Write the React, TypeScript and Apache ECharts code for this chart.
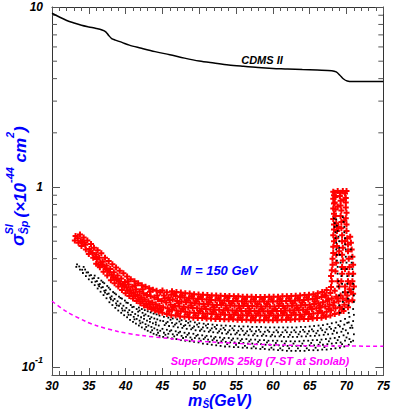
import React, { useEffect, useRef } from 'react';
import * as echarts from 'echarts';

// ---- Data ----
const X_MIN = 30;
const X_MAX = 75;
const Y_MIN = 0.0903;
const Y_MAX = 10;
const Y_MINOR_TICKS = [0.2, 0.3, 0.4, 0.5, 0.6, 0.7, 0.8, 0.9, 2, 3, 4, 5, 6, 7, 8, 9];

const CDMS_II: [number, number][] = [
  [30, 9.23], [31, 8.8], [32, 8.42], [33, 8.15], [34, 7.92], [35, 7.75], [36, 7.6], [36.8, 7.45],
  [37.3, 7.28], [37.7, 6.95], [38.1, 6.68], [38.6, 6.55], [39.5, 6.36], [40.5, 6.14], [42, 5.92],
  [44, 5.65], [46, 5.43], [48, 5.2], [50, 5.01], [52, 4.88], [54, 4.76], [56, 4.68], [58, 4.61],
  [60, 4.56], [62, 4.53], [64, 4.49], [66, 4.46], [68, 4.43], [68.6, 4.36], [69.1, 4.18],
  [69.6, 3.98], [70.1, 3.88], [70.8, 3.85], [72, 3.85], [75, 3.85],
];

const SUPER_CDMS: [number, number][] = [
  [30, 0.232], [32, 0.203], [34.6, 0.179], [36, 0.17], [39.1, 0.157], [42, 0.15], [45.9, 0.144],
  [49, 0.14], [52.7, 0.137], [57, 0.134], [61.7, 0.1324], [65, 0.131], [68.4, 0.1308], [75, 0.1305],
];

const RED_POINTS: [number, number][] = [
  [33.1,0.505],[33.2,0.535],[33.6,0.49],[33.5,0.52],[33.8,0.545],
  [34.0,0.47],[34.1,0.498],[34.3,0.525],
  [34.6,0.45],[34.5,0.478],[34.8,0.505],
  [35.0,0.425],[35.1,0.452],[35.3,0.482],
  [35.6,0.405],[35.5,0.43],[35.7,0.46],
  [36.0,0.375],[36.1,0.398],[36.0,0.422],[36.2,0.445],
  [36.5,0.358],[36.6,0.382],[36.4,0.405],[36.7,0.428],
  [37.0,0.338],[37.1,0.362],[36.9,0.385],[37.2,0.405],
  [37.5,0.322],[37.6,0.345],[37.4,0.367],[37.7,0.388],
  [38.0,0.303],[38.1,0.326],[37.9,0.35],[38.2,0.372],
  [38.5,0.292],[38.6,0.313],[38.4,0.336],[38.7,0.357],
  [39.0,0.28],[39.1,0.3],[38.9,0.322],[39.2,0.343],
  [39.5,0.268],[39.6,0.288],[39.4,0.31],[39.7,0.332],
  [40.0,0.257],[40.1,0.277],[39.9,0.297],[40.2,0.318],
  [40.5,0.248],[40.6,0.267],[40.4,0.287],[40.7,0.307],
  [41.0,0.24],[41.1,0.259],[40.9,0.279],[41.2,0.3],
  [41.5,0.233],[41.6,0.251],[41.4,0.27],[41.7,0.292],
  [42.0,0.226],[42.1,0.244],[41.9,0.263],[42.2,0.285],
  [42.5,0.22],[42.6,0.238],[42.4,0.257],[42.7,0.279],
  [43.0,0.215],[43.1,0.232],[42.9,0.251],[43.2,0.274],
  [43.5,0.21],[43.6,0.228],[43.4,0.247],[43.7,0.269],
  [44.0,0.206],[44.1,0.223],[43.9,0.243],[44.2,0.265],
  [44.5,0.203],[44.6,0.219],[44.4,0.238],[44.7,0.26],
  [45.0,0.2],[45.1,0.215],[44.9,0.233],[45.2,0.25],[45.0,0.266],
  [45.6,0.197],[45.7,0.212],[45.5,0.228],[45.8,0.243],[45.6,0.26],
  [46.2,0.194],[46.3,0.208],[46.1,0.222],[46.4,0.237],[46.2,0.252],[46.3,0.264],
  [46.8,0.193],[46.9,0.206],[46.7,0.219],[47.0,0.233],[46.8,0.248],[46.9,0.261],
  [47.4,0.191],[47.5,0.204],[47.3,0.217],[47.6,0.231],[47.4,0.245],[47.5,0.259],
  [48.0,0.19],[48.1,0.203],[47.9,0.216],[48.2,0.229],[48.0,0.243],[48.1,0.257],
  [48.6,0.189],[48.7,0.201],[48.5,0.214],[48.8,0.228],[48.6,0.241],[48.7,0.256],
  [49.2,0.188],[49.3,0.2],[49.1,0.213],[49.4,0.226],[49.2,0.24],[49.3,0.254],
  [49.8,0.187],[49.9,0.199],[49.7,0.212],[50.0,0.225],[49.8,0.239],[49.9,0.253],
  [50.4,0.187],[50.5,0.198],[50.3,0.211],[50.6,0.224],[50.4,0.238],[50.5,0.252],
  [51.0,0.186],[51.1,0.198],[50.9,0.21],[51.2,0.223],[51.0,0.237],[51.1,0.251],
  [51.6,0.186],[51.7,0.197],[51.5,0.209],[51.8,0.222],[51.6,0.236],[51.7,0.25],
  [52.2,0.185],[52.3,0.196],[52.1,0.208],[52.4,0.221],[52.2,0.235],[52.3,0.25],
  [52.8,0.185],[52.9,0.196],[52.7,0.208],[53.0,0.221],[52.8,0.234],[52.9,0.249],
  [53.4,0.184],[53.5,0.195],[53.3,0.207],[53.6,0.22],[53.4,0.234],[53.5,0.248],
  [54.0,0.184],[54.1,0.195],[53.9,0.207],[54.2,0.22],[54.0,0.233],[54.1,0.248],
  [54.6,0.184],[54.7,0.195],[54.5,0.206],[54.8,0.219],[54.6,0.233],[54.7,0.247],
  [55.2,0.183],[55.3,0.194],[55.1,0.206],[55.4,0.219],[55.2,0.232],[55.3,0.247],
  [55.8,0.183],[55.9,0.194],[55.7,0.205],[56.0,0.218],[55.8,0.232],[55.9,0.246],
  [56.4,0.183],[56.5,0.193],[56.3,0.205],[56.6,0.218],[56.4,0.231],[56.5,0.246],
  [57.0,0.182],[57.1,0.193],[56.9,0.205],[57.2,0.218],[57.0,0.231],[57.1,0.246],
  [57.6,0.182],[57.7,0.193],[57.5,0.205],[57.8,0.217],[57.6,0.231],[57.7,0.245],
  [58.2,0.182],[58.3,0.193],[58.1,0.204],[58.4,0.217],[58.2,0.231],[58.3,0.245],
  [58.8,0.182],[58.9,0.193],[58.7,0.204],[59.0,0.217],[58.8,0.231],[58.9,0.245],
  [59.4,0.182],[59.5,0.193],[59.3,0.204],[59.6,0.217],[59.4,0.231],[59.5,0.246],
  [60.0,0.182],[60.1,0.193],[59.9,0.205],[60.2,0.217],[60.0,0.231],[60.1,0.246],
  [60.6,0.182],[60.7,0.193],[60.5,0.205],[60.8,0.218],[60.6,0.232],[60.7,0.246],
  [61.2,0.183],[61.3,0.194],[61.1,0.205],[61.4,0.218],[61.2,0.232],[61.3,0.247],
  [61.8,0.183],[61.9,0.194],[61.7,0.206],[62.0,0.219],[61.8,0.233],[61.9,0.247],
  [62.4,0.183],[62.5,0.194],[62.3,0.206],[62.6,0.219],[62.4,0.233],[62.5,0.248],
  [63.0,0.184],[63.1,0.195],[62.9,0.207],[63.2,0.22],[63.0,0.234],[63.1,0.249],
  [63.6,0.184],[63.7,0.195],[63.5,0.207],[63.8,0.22],[63.6,0.235],[63.7,0.25],
  [64.2,0.185],[64.3,0.196],[64.1,0.208],[64.4,0.221],[64.2,0.236],[64.3,0.251],
  [64.8,0.185],[64.9,0.197],[64.7,0.209],[65.0,0.222],[64.8,0.237],[64.9,0.252],
  [65.4,0.186],[65.5,0.198],[65.3,0.21],[65.6,0.224],[65.4,0.239],[65.5,0.254],
  [66.0,0.187],[66.1,0.199],[65.9,0.212],[66.2,0.226],[66.0,0.241],[66.1,0.257],
  [66.6,0.188],[66.7,0.2],[66.5,0.214],[66.8,0.229],[66.6,0.245],[66.7,0.261],
  [67.2,0.19],[67.3,0.203],[67.1,0.217],[67.4,0.233],[67.2,0.25],[67.3,0.268],
  [67.8,0.193],[67.9,0.207],[67.7,0.222],[68.0,0.24],[67.8,0.258],[67.9,0.278],[68.0,0.3],
  [68.4,0.197],[68.5,0.212],[68.3,0.228],[68.6,0.246],[68.4,0.265],
  [69.0,0.2],[69.1,0.215],[68.9,0.232],[69.2,0.25],
  [69.6,0.205],[69.7,0.222],[69.5,0.24],[69.8,0.26],
  [70.2,0.215],[70.3,0.232],[70.1,0.25],[70.4,0.27],
  [70.8,0.235],[70.9,0.255],[71.0,0.28],
  [67.9,0.32],[68.0,0.345],[68.1,0.37],[68.1,0.4],[68.2,0.43],[68.2,0.465],[68.3,0.5],[68.2,0.54],
  [68.3,0.58],[68.3,0.62],[68.2,0.665],[68.3,0.71],[68.2,0.76],[68.3,0.81],[68.2,0.86],[68.3,0.9],[68.2,0.94],
  [68.5,0.34],[68.6,0.38],[68.6,0.42],[68.7,0.47],[68.6,0.52],[68.7,0.57],[68.6,0.63],[68.5,0.69],
  [68.5,0.75],[68.4,0.82],[68.5,0.88],[68.4,0.93],
  [69.3,0.3],[69.4,0.33],[69.4,0.36],[69.5,0.39],[69.4,0.42],[69.5,0.46],[69.4,0.5],[69.4,0.54],
  [69.3,0.59],[69.3,0.64],[69.2,0.69],[69.3,0.74],[69.2,0.79],[69.2,0.84],[69.1,0.89],[69.2,0.93],
  [70.2,0.3],[70.3,0.33],[70.4,0.36],[70.3,0.4],[70.2,0.44],[70.2,0.48],[70.1,0.52],[70.0,0.57],
  [70.0,0.62],[69.9,0.67],[70.0,0.72],[69.9,0.77],[69.9,0.82],[69.9,0.87],[69.8,0.92],
  [70.8,0.3],[70.9,0.33],[70.9,0.37],[70.8,0.41],[70.7,0.45],[70.6,0.49],[70.5,0.53],
  [69.0,0.28],[68.8,0.3],[69.8,0.28],[70.5,0.29],[69.8,0.35],[69.0,0.44],[69.8,0.5],[68.9,0.6],
  [69.7,0.65],[68.8,0.78],[69.6,0.85],[68.8,0.95],[69.5,0.95],[70.0,0.95],
  // in-between points of the same band
  [33.9,0.5],[34.4,0.49],[35.2,0.44],[35.9,0.41],[36.3,0.37],[36.8,0.37],[37.3,0.35],[37.8,0.335],
  [38.3,0.315],[38.8,0.305],[39.3,0.29],[39.8,0.282],[40.3,0.265],[40.8,0.255],[41.3,0.248],[41.8,0.238],
  [42.3,0.232],[42.8,0.225],[43.3,0.222],[43.8,0.215],[44.3,0.212],[44.8,0.208],[40.3,0.3],[41.3,0.285],
  [42.3,0.27],[43.3,0.262],[44.3,0.25],[45.3,0.24],
  [45.9,0.204],[46.0,0.236],[46.5,0.216],[46.6,0.255],[47.1,0.198],[47.2,0.226],[47.8,0.21],[47.7,0.25],
  [48.4,0.196],[48.3,0.235],[48.9,0.22],[49.0,0.247],[49.5,0.193],[49.6,0.232],[50.1,0.205],[50.2,0.245],
  [50.7,0.217],[50.8,0.191],[51.3,0.229],[51.4,0.243],[51.9,0.203],[52.0,0.215],[52.5,0.19],[52.6,0.241],
  [53.1,0.227],[53.2,0.201],[53.7,0.212],[53.8,0.243],[54.3,0.189],[54.4,0.226],[54.9,0.2],[55.0,0.24],
  [55.5,0.212],[55.6,0.188],[56.1,0.225],[56.2,0.239],[56.7,0.199],[56.8,0.211],[57.3,0.188],[57.4,0.238],
  [57.9,0.224],[58.0,0.199],[58.5,0.21],[58.6,0.239],[59.1,0.188],[59.2,0.224],[59.7,0.199],[59.8,0.238],
  [60.3,0.21],[60.4,0.188],[60.9,0.225],[61.0,0.239],[61.5,0.2],[61.6,0.212],[62.1,0.188],[62.2,0.24],
  [62.7,0.226],[62.8,0.2],[63.3,0.213],[63.4,0.241],[63.9,0.19],[64.0,0.228],[64.5,0.202],[64.6,0.243],
  [65.1,0.215],[65.2,0.19],[65.7,0.231],[65.8,0.247],[66.3,0.205],[66.4,0.219],[66.9,0.193],[67.0,0.25],
  [67.5,0.238],[67.6,0.21],[68.2,0.22],[68.8,0.24],[69.4,0.21],[70.0,0.235],[70.6,0.26],
];

const BLACK_POINTS: [number, number][] = [
  [33.3,0.36],[33.4,0.372],
  [33.8,0.348],[33.7,0.362],
  [34.2,0.333],[34.1,0.347],[34.3,0.36],
  [34.6,0.32],[34.7,0.335],[34.5,0.348],
  [35.0,0.307],[35.1,0.322],[34.9,0.336],
  [35.4,0.296],[35.5,0.31],[35.3,0.324],
  [35.8,0.285],[35.9,0.298],[35.7,0.312],[35.8,0.322],
  [36.2,0.273],[36.3,0.287],[36.1,0.3],[36.3,0.312],
  [36.6,0.262],[36.7,0.276],[36.5,0.289],[36.7,0.302],
  [37.0,0.251],[37.1,0.265],[36.9,0.278],[37.1,0.292],
  [37.4,0.241],[37.5,0.254],[37.3,0.267],[37.5,0.282],
  [37.8,0.229],[37.9,0.243],[37.7,0.256],[37.9,0.27],
  [38.2,0.221],[38.3,0.234],[38.1,0.247],[38.3,0.261],
  [38.6,0.213],[38.7,0.226],[38.5,0.239],[38.7,0.253],
  [39.0,0.206],[39.1,0.219],[38.9,0.232],[39.1,0.246],
  [39.4,0.2],[39.5,0.212],[39.3,0.225],[39.5,0.24],
  [39.8,0.194],[39.9,0.206],[39.7,0.219],[39.9,0.234],
  [40.2,0.189],[40.3,0.201],[40.1,0.213],[40.3,0.227],
  [40.6,0.183],[40.7,0.195],[40.5,0.207],[40.7,0.221],
  [41.0,0.178],[41.1,0.19],[40.9,0.202],[41.1,0.216],
  [41.4,0.174],[41.5,0.185],[41.3,0.197],[41.5,0.21],
  [41.8,0.17],[41.9,0.181],[41.7,0.193],[41.9,0.206],[41.8,0.214],
  [42.2,0.166],[42.3,0.177],[42.1,0.189],[42.3,0.2],[42.2,0.21],
  [42.6,0.162],[42.7,0.173],[42.5,0.185],[42.7,0.196],[42.6,0.207],
  [43.0,0.159],[43.1,0.17],[42.9,0.181],[43.1,0.192],[43.0,0.204],
  [43.4,0.156],[43.5,0.167],[43.3,0.178],[43.5,0.189],[43.4,0.201],
  [43.8,0.153],[43.9,0.164],[43.7,0.175],[43.9,0.186],[43.8,0.198],
  [44.2,0.151],[44.3,0.161],[44.1,0.172],[44.3,0.184],[44.2,0.196],
  [44.6,0.149],[44.7,0.159],[44.5,0.17],[44.7,0.181],[44.6,0.193],
  [45.1,0.147],[45.2,0.155],[45.0,0.163],[45.3,0.171],[45.1,0.18],[45.2,0.19],
  [45.7,0.146],[45.8,0.153],[45.6,0.161],[45.9,0.169],[45.7,0.178],[45.8,0.188],
  [46.3,0.144],[46.4,0.152],[46.2,0.16],[46.5,0.168],[46.3,0.176],[46.4,0.186],
  [46.9,0.143],[47.0,0.151],[46.8,0.158],[47.1,0.166],[46.9,0.175],[47.0,0.184],
  [47.5,0.141],[47.6,0.149],[47.4,0.157],[47.7,0.165],[47.5,0.173],[47.6,0.182],
  [48.1,0.14],[48.2,0.147],[48.0,0.155],[48.3,0.163],[48.1,0.171],[48.2,0.18],
  [48.7,0.139],[48.8,0.146],[48.6,0.154],[48.9,0.162],[48.7,0.17],[48.8,0.179],
  [49.3,0.138],[49.4,0.145],[49.2,0.153],[49.5,0.16],[49.3,0.168],[49.4,0.177],
  [49.9,0.137],[50.0,0.144],[49.8,0.151],[50.1,0.159],[49.9,0.167],[50.0,0.175],
  [50.5,0.135],[50.6,0.143],[50.4,0.15],[50.7,0.158],[50.5,0.166],[50.6,0.174],
  [51.1,0.134],[51.2,0.142],[51.0,0.149],[51.3,0.157],[51.1,0.165],[51.2,0.173],
  [51.7,0.133],[51.8,0.141],[51.6,0.148],[51.9,0.156],[51.7,0.164],[51.8,0.172],
  [52.3,0.132],[52.4,0.14],[52.2,0.147],[52.5,0.155],[52.3,0.163],[52.4,0.171],
  [52.9,0.131],[53.0,0.139],[52.8,0.146],[53.1,0.154],[52.9,0.162],[53.0,0.17],
  [53.5,0.13],[53.6,0.138],[53.4,0.145],[53.7,0.153],[53.5,0.161],[53.6,0.17],
  [54.1,0.13],[54.2,0.137],[54.0,0.145],[54.3,0.152],[54.1,0.16],[54.2,0.169],
  [54.7,0.129],[54.8,0.137],[54.6,0.144],[54.9,0.152],[54.7,0.16],[54.8,0.169],
  [55.3,0.129],[55.4,0.136],[55.2,0.144],[55.5,0.151],[55.3,0.159],[55.4,0.168],
  [55.9,0.128],[56.0,0.136],[55.8,0.143],[56.1,0.151],[55.9,0.159],[56.0,0.168],
  [56.5,0.128],[56.6,0.135],[56.4,0.143],[56.7,0.15],[56.5,0.158],[56.6,0.168],
  [57.1,0.127],[57.2,0.135],[57.0,0.142],[57.3,0.15],[57.1,0.158],[57.2,0.167],
  [57.7,0.127],[57.8,0.134],[57.6,0.142],[57.9,0.149],[57.7,0.158],[57.8,0.167],
  [58.3,0.126],[58.4,0.134],[58.2,0.141],[58.5,0.149],[58.3,0.157],[58.4,0.167],
  [58.9,0.126],[59.0,0.133],[58.8,0.141],[59.1,0.149],[58.9,0.157],[59.0,0.166],
  [59.5,0.125],[59.6,0.133],[59.4,0.14],[59.7,0.148],[59.5,0.157],[59.6,0.166],
  [60.1,0.125],[60.2,0.132],[60.0,0.14],[60.3,0.148],[60.1,0.156],[60.2,0.166],
  [60.7,0.124],[60.8,0.132],[60.6,0.14],[60.9,0.148],[60.7,0.156],[60.8,0.166],
  [61.3,0.124],[61.4,0.131],[61.2,0.139],[61.5,0.147],[61.3,0.156],[61.4,0.166],
  [61.9,0.123],[62.0,0.131],[61.8,0.139],[62.1,0.147],[61.9,0.156],[62.0,0.166],
  [62.5,0.123],[62.6,0.131],[62.4,0.139],[62.7,0.147],[62.5,0.156],[62.6,0.166],
  [63.1,0.123],[63.2,0.131],[63.0,0.139],[63.3,0.147],[63.1,0.156],[63.2,0.166],
  [63.7,0.123],[63.8,0.131],[63.6,0.139],[63.9,0.148],[63.7,0.157],[63.8,0.167],
  [64.3,0.123],[64.4,0.131],[64.2,0.14],[64.5,0.148],[64.3,0.157],[64.4,0.167],
  [64.9,0.124],[65.0,0.132],[64.8,0.14],[65.1,0.149],[64.9,0.158],[65.0,0.168],
  [65.5,0.124],[65.6,0.132],[65.4,0.141],[65.7,0.149],[65.5,0.158],[65.6,0.169],
  [66.1,0.124],[66.2,0.133],[66.0,0.141],[66.3,0.15],[66.1,0.159],[66.2,0.17],
  [66.7,0.125],[66.8,0.133],[66.6,0.142],[66.9,0.151],[66.7,0.16],[66.8,0.171],
  [67.3,0.125],[67.4,0.134],[67.2,0.143],[67.5,0.152],[67.3,0.162],[67.4,0.173],
  [67.9,0.126],[68.0,0.135],[67.8,0.144],[68.1,0.153],[67.9,0.163],[68.0,0.175],
  [68.5,0.127],[68.6,0.136],[68.4,0.145],[68.7,0.155],[68.5,0.165],[68.6,0.177],
  [69.1,0.128],[69.2,0.137],[69.0,0.147],[69.3,0.157],[69.1,0.168],[69.2,0.18],
  [69.7,0.13],[69.8,0.14],[69.6,0.15],[69.9,0.16],[69.7,0.172],[69.8,0.185],
  [70.3,0.133],[70.4,0.143],[70.2,0.154],[70.5,0.165],[70.3,0.177],[70.4,0.19],
  [70.9,0.14],[71.0,0.152],[70.8,0.165],[70.9,0.18],[71.0,0.195],[70.9,0.21],
  [68.3,0.67],[68.4,0.63],[68.4,0.6],[68.5,0.56],[68.5,0.52],[68.6,0.49],[68.6,0.45],[68.7,0.42],
  [68.7,0.39],[68.8,0.36],[68.8,0.33],[68.9,0.3],[68.9,0.28],[69.0,0.25],[69.0,0.22],[69.1,0.2],
  [68.6,0.66],[68.7,0.61],[68.8,0.57],[68.9,0.53],[69.0,0.5],[69.0,0.46],[69.1,0.42],[69.2,0.38],
  [69.3,0.35],[69.3,0.32],[69.4,0.29],[69.5,0.26],[69.5,0.23],[69.6,0.21],
  [69.5,0.68],[69.6,0.64],[69.7,0.6],[69.7,0.56],[69.8,0.52],[69.8,0.48],[69.9,0.45],[69.9,0.41],
  [70.0,0.38],[70.0,0.35],[70.1,0.32],[70.1,0.29],[70.2,0.26],[70.2,0.24],[70.3,0.22],[70.3,0.2],
  [70.6,0.45],[70.7,0.41],[70.7,0.38],[70.8,0.35],[70.8,0.32],[70.9,0.29],[70.9,0.27],[71.0,0.25],[71.0,0.23],
  // in-between points of the same band
  [36.4,0.281],[37.2,0.259],[38.0,0.238],[38.8,0.22],[39.6,0.206],[40.4,0.195],[41.2,0.184],[42.0,0.175],
  [42.8,0.167],[43.6,0.16],[44.4,0.155],[36.9,0.296],[37.7,0.276],[38.5,0.257],[39.3,0.242],[40.1,0.228],
  [40.9,0.215],[41.7,0.203],[42.5,0.193],[43.3,0.185],[44.1,0.177],
  [45.4,0.151],[45.5,0.175],[46.0,0.158],[46.1,0.183],[46.6,0.148],[46.7,0.172],[47.2,0.155],[47.3,0.179],
  [47.8,0.145],[47.9,0.169],[48.4,0.151],[48.5,0.176],[49.0,0.142],[49.1,0.165],[49.6,0.149],[49.7,0.172],
  [50.2,0.14],[50.3,0.162],[50.8,0.146],[50.9,0.17],[51.4,0.138],[51.5,0.16],[52.0,0.144],[52.1,0.167],
  [52.6,0.136],[52.7,0.158],[53.2,0.142],[53.3,0.165],[53.8,0.134],[53.9,0.156],[54.4,0.141],[54.5,0.164],
  [55.0,0.133],[55.1,0.155],[55.6,0.14],[55.7,0.163],[56.2,0.131],[56.3,0.154],[56.8,0.139],[56.9,0.162],
  [57.4,0.13],[57.5,0.153],[58.0,0.138],[58.1,0.161],[58.6,0.129],[58.7,0.152],[59.2,0.137],[59.3,0.16],
  [59.8,0.128],[59.9,0.151],[60.4,0.136],[60.5,0.16],[61.0,0.127],[61.1,0.151],[61.6,0.135],[61.7,0.16],
  [62.2,0.127],[62.3,0.151],[62.8,0.135],[62.9,0.16],[63.4,0.127],[63.5,0.152],[64.0,0.135],[64.1,0.161],
  [64.6,0.127],[64.7,0.153],[65.2,0.136],[65.3,0.162],[65.8,0.128],[65.9,0.154],[66.4,0.137],[66.5,0.164],
  [67.0,0.129],[67.1,0.156],[67.6,0.139],[67.7,0.167],[68.2,0.131],[68.3,0.159],[68.8,0.141],[68.9,0.171],
  [69.4,0.134],[69.5,0.163],[70.0,0.146],[70.1,0.176],[70.6,0.138],[70.7,0.17],
];

const FONT = 'Liberation Sans';
const BLUE = '#0000ff';
const MAGENTA = '#ff00ff';

const bi = (size: number, color: string) => ({
  fontFamily: FONT,
  fontWeight: 'bold' as const,
  fontStyle: 'italic' as const,
  fontSize: size,
  fill: color,
});

export default function App() {
  const ref = useRef<HTMLDivElement>(null);

  useEffect(() => {
    if (!ref.current) return;
    const chart = echarts.init(ref.current, null, { renderer: 'svg' });

    const yLabelFormatter = (v: number) => {
      const e = Math.log10(v);
      const r = Math.round(e);
      if (Math.abs(e - r) > 1e-6 || r < -1 || r > 1) return '';
      if (r === 1) return '{a|10}';
      if (r === 0) return '{a|1}';
      return '{a|10}{s|-1}';
    };

    const axisLine = { show: true, lineStyle: { color: '#333', width: 1 } };
    const xBase = {
      type: 'value' as const,
      min: X_MIN,
      max: X_MAX,
      interval: 5,
      axisLine,
      axisTick: { show: true, inside: true, length: 7, lineStyle: { color: '#555' } },
      minorTick: { show: true, splitNumber: 5, length: 4, lineStyle: { color: '#555' } },
      splitLine: { show: false },
      minorSplitLine: { show: false },
    };
    const yBase = {
      type: 'log' as const,
      logBase: 10,
      min: Y_MIN,
      max: Y_MAX,
      axisLine,
      axisTick: { show: true, inside: true, length: 8, lineStyle: { color: '#555' } },
      splitLine: { show: false },
    };

    const tickStyle = { stroke: '#555', lineWidth: 1 };

    chart.setOption({
      animation: false,
      grid: { left: 52, right: 8, top: 7, bottom: 34, containLabel: false },
      xAxis: [
        {
          ...xBase,
          position: 'bottom',
          axisLabel: {
            margin: 5,
            color: '#000',
            fontFamily: FONT,
            fontWeight: 'bold',
            fontStyle: 'italic',
            fontSize: 12,
          },
        },
        { ...xBase, position: 'top', axisLabel: { show: false } },
      ],
      yAxis: [
        {
          ...yBase,
          position: 'left',
          axisLabel: {
            margin: 9,
            formatter: yLabelFormatter,
            rich: {
              a: { fontFamily: FONT, fontWeight: 'bold', fontStyle: 'italic', fontSize: 12, color: '#000', lineHeight: 24 },
              s: { fontFamily: FONT, fontWeight: 'bold', fontStyle: 'italic', fontSize: 9, color: '#000', lineHeight: 9, verticalAlign: 'top' },
            },
          },
        },
        { ...yBase, position: 'right', axisLabel: { show: false } },
      ],
      series: [
        {
          type: 'custom',
          silent: true,
          xAxisIndex: 0,
          yAxisIndex: 0,
          data: Y_MINOR_TICKS.map((v) => [X_MIN, v]),
          renderItem: (_params: any, api: any) => {
            const v = api.value(1);
            const l = api.coord([X_MIN, v]);
            const r = api.coord([X_MAX, v]);
            return {
              type: 'group',
              children: [
                { type: 'line', shape: { x1: l[0], y1: l[1], x2: l[0] + 5, y2: l[1] }, style: tickStyle },
                { type: 'line', shape: { x1: r[0] - 5, y1: r[1], x2: r[0], y2: r[1] }, style: tickStyle },
              ],
            };
          },
        },
        {
          type: 'scatter',
          data: RED_POINTS,
          symbol: 'path://M2,0H4V2H6V4H4V6H2V4H0V2H2Z',
          symbolSize: 6,
          itemStyle: { color: '#ff0000', opacity: 1, borderWidth: 0 },
          silent: true,
        },
        {
          type: 'scatter',
          data: BLACK_POINTS,
          symbol: 'rect',
          symbolSize: 1.8,
          itemStyle: { color: '#000', opacity: 1, borderWidth: 0 },
          silent: true,
        },
        {
          type: 'line',
          data: CDMS_II,
          symbol: 'none',
          smooth: 0.3,
          lineStyle: { color: '#000', width: 1.5 },
          silent: true,
        },
        {
          type: 'line',
          data: SUPER_CDMS,
          symbol: 'none',
          smooth: 0.3,
          lineStyle: { color: MAGENTA, width: 1.5, type: [4, 3] },
          silent: true,
        },
      ],
      graphic: [
        { type: 'text', x: 262, y: 60, style: { text: 'CDMS II', ...bi(11, '#000'), align: 'center', verticalAlign: 'middle' } },
        { type: 'text', x: 219, y: 270, style: { text: 'M = 150 GeV', ...bi(13, BLUE), align: 'center', verticalAlign: 'middle' } },
        { type: 'text', x: 260, y: 361, style: { text: 'SuperCDMS 25kg (7-ST at Snolab)', ...bi(11, MAGENTA), align: 'center', verticalAlign: 'middle' } },
        {
          type: 'group',
          children: [
            { type: 'text', x: 188, y: 400, style: { text: 'm', ...bi(16, BLUE), align: 'left', verticalAlign: 'middle' } },
            { type: 'text', x: 202.5, y: 404, style: { text: 'Ŝ', ...bi(10, BLUE), align: 'left', verticalAlign: 'middle' } },
            { type: 'text', x: 209, y: 400, style: { text: '(GeV)', ...bi(16, BLUE), align: 'left', verticalAlign: 'middle' } },
          ],
        },
        {
          type: 'group',
          x: 20,
          y: 246,
          rotation: Math.PI / 2,
          children: [
            { type: 'text', x: 0, y: -2, style: { text: 'σ', ...bi(18, BLUE), align: 'left', verticalAlign: 'middle' } },
            { type: 'text', x: 11.5, y: -11, style: { text: 'SI', ...bi(11, BLUE), align: 'left', verticalAlign: 'middle' } },
            { type: 'text', x: 11.5, y: 4, style: { text: 'Ŝp', ...bi(11, BLUE), align: 'left', verticalAlign: 'middle' } },
            { type: 'text', x: 28.5, y: 0, style: { text: '(×10', ...bi(17, BLUE), align: 'left', verticalAlign: 'middle' } },
            { type: 'text', x: 63, y: -10, style: { text: '-44', ...bi(11, BLUE), align: 'left', verticalAlign: 'middle' } },
            { type: 'text', x: 83.5, y: 0, style: { text: 'cm', ...bi(17, BLUE), align: 'left', verticalAlign: 'middle' } },
            { type: 'text', x: 108, y: -10, style: { text: '2', ...bi(11, BLUE), align: 'left', verticalAlign: 'middle' } },
            { type: 'text', x: 114, y: 0, style: { text: ')', ...bi(17, BLUE), align: 'left', verticalAlign: 'middle' } },
          ],
        },
      ],
    });

    return () => chart.dispose();
  }, []);

  return <div ref={ref} style={{ position: 'absolute', left: 0, top: 0, width: 393, height: 409 }} />;
}
